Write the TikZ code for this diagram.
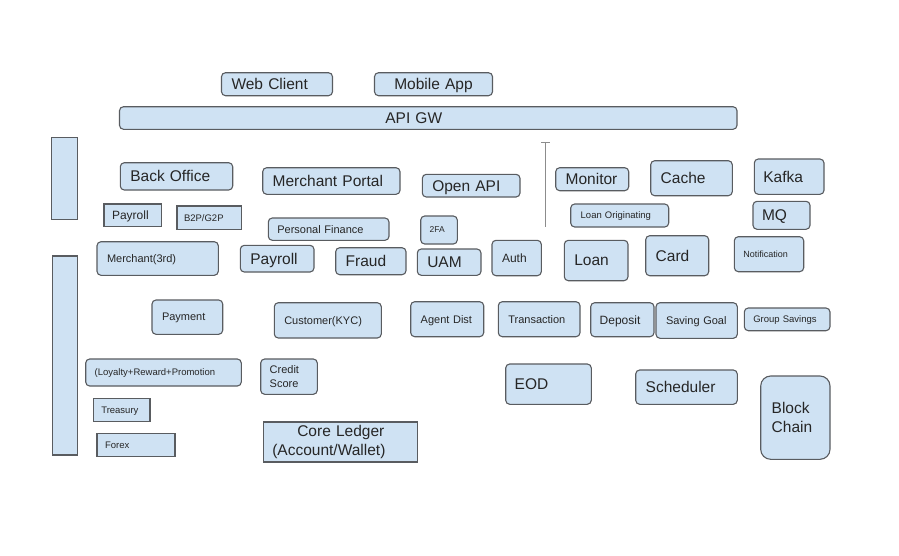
\documentclass[tikz,border=0pt]{standalone}
\usepackage{fontspec}
\setmainfont{Liberation Sans}
\usetikzlibrary{arrows.meta}

\definecolor{boxfill}{HTML}{CFE2F3}
\definecolor{boxline}{HTML}{595C60}
\definecolor{rulegray}{HTML}{8C8C8C}

\newcommand{\bigtxt}{\fontsize{15.5}{18.8}\selectfont}
\newcommand{\medtxt}{\fontsize{12}{14.4}\selectfont}
\newcommand{\midtxt}{\fontsize{11}{13.6}\selectfont}
\newcommand{\smalltxt}{\fontsize{9.5}{11.4}\selectfont}

\tikzset{
  mbox/.style={draw=boxline, fill=boxfill, line width=1.1pt, rounded corners=4pt,
    inner xsep=10pt, inner ysep=2pt, align=left, text=black!85},
  rbox/.style={mbox, text depth=0pt},
  sbox/.style={rbox, sharp corners},
}

\begin{document}
\begin{tikzpicture}[x=1pt,y=-1pt]
  \path[use as bounding box, fill=white] (0,0) rectangle (899,555);

  % clients and gateway
  \node[rbox, font=\bigtxt, text width=91, minimum height=23] (web) at (277,84.2) {Web Client};
  \node[rbox, font=\bigtxt, align=center, text width=98, minimum height=23] (mobile) at (433.5,84.2) {Mobile App};
  \node[rbox, font=\bigtxt, align=center, text width=597.5, minimum height=22.6] (apigw) at (428.25,118) {\hspace*{-29pt}API GW};

  % side bars
  \node[sbox, inner sep=0pt, minimum width=26.3, minimum height=81.6] (barA) at (64.2,178.5) {};
  \node[sbox, inner sep=0pt, minimum width=25, minimum height=199] (barB) at (64.8,355.5) {};

  % channels
  \node[rbox, font=\bigtxt, text width=92.4, minimum height=27.3] (backoffice) at (176.5,176.35) {Back Office};
  \node[rbox, font=\bigtxt, text width=117.3, minimum height=26.6] (mportal) at (331.35,181) {Merchant Portal};
  \node[rbox, font=\bigtxt, text width=77.7, minimum height=22.7] (openapi) at (471.15,185.65) {Open API};

  % separator
  \coordinate (sepTop) at (545.5,141.7);
  \coordinate (sepBot) at (545.5,226.7);
  \draw[rulegray, line width=1.4pt, {Bar[width=9pt,line width=1.2pt]}-] (sepTop) -- (sepBot);

  % infrastructure
  \node[rbox, font=\bigtxt, text width=53, minimum height=23] (monitor) at (592.2,179.2) {Monitor};
  \node[rbox, font=\bigtxt, text width=61.6, minimum height=35] (cache) at (691.5,178.2) {Cache};
  \node[rbox, font=\bigtxt, inner xsep=9pt, text width=51.7, minimum height=35.3] (kafka) at (789.15,176.65) {Kafka};
  \node[rbox, font=\smalltxt, text width=78, minimum height=23] (loanorig) at (619.7,215.5) {Loan Originating};
  \node[rbox, font=\bigtxt, inner xsep=9pt, text width=39, minimum height=28] (mq) at (781.5,215.3) {MQ};

  % back office modules
  \node[sbox, font=\medtxt, inner xsep=8pt, text width=41.3, minimum height=22.7] (payrollBO) at (132.65,215.35) {Payroll};
  \node[sbox, font=\smalltxt, inner xsep=7pt, text width=50.3, minimum height=23.3] (b2p) at (209.15,217.65) {B2P/G2P};
  \node[rbox, font=\midtxt, inner xsep=9pt, text width=102.7, minimum height=22.3] (pfm) at (328.65,229.15) {Personal Finance};
  \node[rbox, font=\fontsize{8.5}{10}\selectfont, inner xsep=9pt, text width=18.6, minimum height=28] (twofa) at (439,230) {2FA};

  % services row 1
  \node[rbox, font=\midtxt, text width=101.3, minimum height=33.6] (merch3) at (157.65,258.5) {Merchant(3rd)};
  \node[rbox, font=\bigtxt, text width=53.7, minimum height=26.7] (payroll) at (277.15,258.65) {Payroll};
  \node[rbox, font=\bigtxt, text width=50.3, minimum height=27] (fraud) at (370.85,261.2) {Fraud};
  \node[rbox, font=\bigtxt, text width=43.7, minimum height=26.3] (uam) at (449.15,262.15) {UAM};
  \node[rbox, font=\medtxt, text width=29.3, minimum height=35.4] (auth) at (516.65,258) {Auth};
  \node[rbox, font=\bigtxt, text width=43.7, minimum height=40.4] (loan) at (596.15,260.5) {Loan};
  \node[rbox, font=\bigtxt, text width=43, minimum height=40] (card) at (677.2,255.7) {Card};
  \node[rbox, font=\fontsize{9}{11}\selectfont, inner xsep=9pt, text width=51.4, minimum height=35] (notif) at (769,254.2) {Notification};

  % services row 2
  \node[rbox, font=\midtxt, text width=50.7, minimum height=34.3] (payment) at (187.35,317.15) {Payment};
  \node[rbox, font=\midtxt, text width=87, minimum height=35.3] (customer) at (327.8,320.35) {Customer(KYC)};
  \node[rbox, font=\midtxt, text width=53, minimum height=35] (agent) at (447.2,319.2) {Agent Dist};
  \node[rbox, font=\midtxt, text width=61.7, minimum height=35] (txn) at (539.15,319.2) {Transaction};
  \node[rbox, font=\medtxt, inner xsep=9pt, text width=45.3, minimum height=34] (deposit) at (622.35,319.7) {Deposit};
  \node[rbox, font=\midtxt, text width=61.3, minimum height=35.6] (savgoal) at (696.65,320.5) {Saving Goal};
  \node[rbox, font=\smalltxt, inner xsep=9pt, text width=67.7, minimum height=22.7] (grpsav) at (787.15,319.35) {Group Savings};

  % lower modules
  \node[rbox, font=\smalltxt, inner xsep=9pt, text width=137.6, minimum height=27] (loyalty) at (163.5,372.5) {(Loyalty+Reward+Promotion};
  \node[mbox, font=\midtxt, inner xsep=9pt, text width=38.6, minimum height=35.3] (credit) at (289,376.65) {Credit\\Score};
  \node[sbox, font=\smalltxt, inner xsep=8pt, text width=40.7, minimum height=23] (treasury) at (121.65,410.2) {Treasury};
  \node[sbox, font=\smalltxt, inner xsep=8pt, text width=62, minimum height=23] (forex) at (136,445.2) {Forex};
  \node[mbox, sharp corners, font=\bigtxt, inner xsep=9pt, text width=136.4, minimum height=40] (ledger) at (340.5,442) {\hspace*{25pt}Core Ledger\\(Account/Wallet)};
  \node[rbox, font=\bigtxt, inner xsep=9pt, text width=67.6, minimum height=40.3] (eod) at (548.5,384.15) {EOD};
  \node[rbox, font=\bigtxt, text width=81.6, minimum height=34.3] (sched) at (686.5,387.15) {Scheduler};
  \node[mbox, font=\bigtxt, rounded corners=10pt, inner xsep=11pt, text width=47.3, minimum height=83.3] (chain) at (795.35,417.65) {Block\\Chain};
\end{tikzpicture}
\end{document}
